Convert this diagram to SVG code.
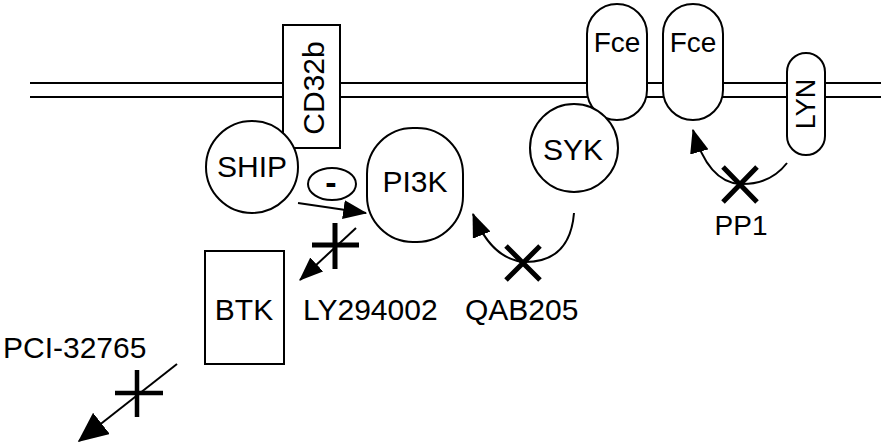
<svg xmlns="http://www.w3.org/2000/svg" width="881" height="444" viewBox="0 0 881 444">
<style>
.s{fill:#fff;stroke:#000;stroke-width:2}
.t{font-family:"Liberation Sans",Arial,sans-serif;font-size:30px;fill:#000}
.m{text-anchor:middle}
.c{fill:none;stroke:#000;stroke-width:2}
.x{fill:none;stroke:#000;stroke-width:5}
</style>
<defs>
<marker id="ah" viewBox="0 0 10 10" refX="9.5" refY="5" markerWidth="24" markerHeight="19" markerUnits="userSpaceOnUse" orient="auto" preserveAspectRatio="none">
<path d="M0,0 L10,5 L0,10 z" fill="#000"/>
</marker>
<marker id="ahb" viewBox="0 0 10 10" refX="9.5" refY="5" markerWidth="30" markerHeight="27" markerUnits="userSpaceOnUse" orient="auto" preserveAspectRatio="none">
<path d="M0,0 L10,5 L0,10 z" fill="#000"/>
</marker>
</defs>
<g id="membrane">
<line x1="30" y1="83" x2="881" y2="83" stroke="#000" stroke-width="2"/>
<line x1="30" y1="97" x2="881" y2="97" stroke="#000" stroke-width="2"/>
</g>
<g id="CD32b">
<rect class="s" x="283" y="25" width="57" height="123"/>
<text class="t m" transform="translate(324,88) rotate(-90)">CD32b</text>
</g>
<g id="SHIP">
<circle class="s" cx="252" cy="167" r="46"/>
<text class="t m" x="252" y="177">SHIP</text>
</g>
<g id="minus">
<ellipse class="s" cx="332" cy="184" rx="24" ry="16"/>
<text class="t m" x="331" y="194" style="font-size:34px;font-weight:bold">-</text>
</g>
<g id="PI3K">
<rect class="s" x="367" y="128" width="96" height="114" rx="46" ry="46"/>
<text class="t m" x="415" y="192">PI3K</text>
</g>
<g id="Fce1">
<rect class="s" x="587" y="4" width="60" height="116" rx="30" ry="30"/>
<text class="t m" x="617" y="52" style="font-size:28px">Fce</text>
</g>
<g id="Fce2">
<rect class="s" x="663" y="4" width="60" height="116" rx="30" ry="30"/>
<text class="t m" x="693" y="52" style="font-size:28px">Fce</text>
</g>
<g id="LYN">
<rect class="s" x="787" y="53" width="38" height="102" rx="19" ry="19"/>
<text class="t m" transform="translate(815,104) rotate(-90)" style="font-size:27px">LYN</text>
</g>
<g id="SYK">
<circle class="s" cx="574" cy="148" r="44"/>
<text class="t m" x="573" y="160">SYK</text>
</g>
<g id="BTK">
<rect class="s" x="205" y="251" width="79" height="113"/>
<text class="t m" x="244" y="320">BTK</text>
</g>
<g id="labels">
<text class="t" x="303" y="320">LY294002</text>
<text class="t" x="465" y="320">QAB205</text>
<text class="t" x="3" y="358">PCI-32765</text>
<text class="t m" x="741" y="235" style="font-size:28px">PP1</text>
</g>
<g id="connectors">
<line class="c" x1="298" y1="203" x2="366" y2="213" marker-end="url(#ah)"/>
<line class="c" x1="356" y1="228" x2="300" y2="280" stroke-width="2.5" marker-end="url(#ah)"/>
<path class="c" d="M574,213 Q570,262 525,262 Q492,260 473,214" marker-end="url(#ah)"/>
<path class="c" d="M787,163 Q770,185 740,184 Q708,182 693,130" marker-end="url(#ah)"/>
<line class="c" x1="177" y1="364" x2="79" y2="441" stroke-width="4" marker-end="url(#ahb)"/>
<path class="x" d="M335,223 V269 M312,245 H359"/>
<path class="x" d="M506,246 L540,280 M540,246 L506,280"/>
<path class="x" d="M723,167 L757,202 M757,167 L723,202"/>
<path class="x" d="M137,370 V417 M115,393 H163" style="stroke-width:4.5"/>
</g>
</svg>
